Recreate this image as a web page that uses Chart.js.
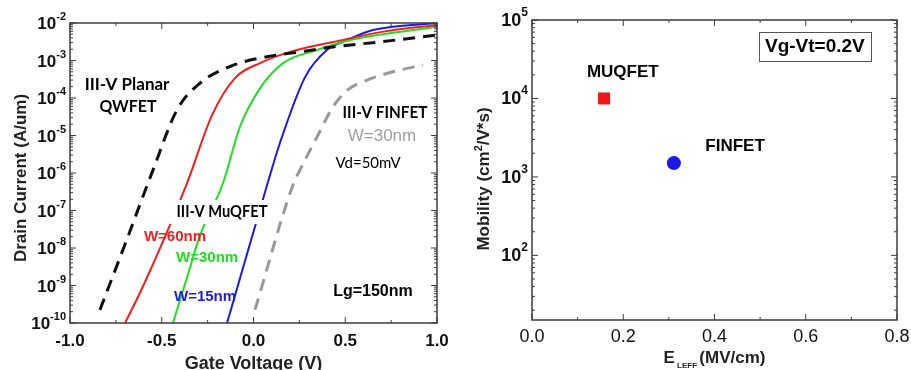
<!DOCTYPE html>
<html>
<head>
<meta charset="utf-8">
<script src="https://cdn.jsdelivr.net/npm/chart.js@4.4.1/dist/chart.umd.min.js"></script>
<style>
  body { margin: 0; background: #fff; }
  #wrap { position: relative; width: 911px; height: 370px; overflow: hidden; }
  canvas { position: absolute; top: 0; }
</style>
</head>
<body>
<div id="wrap">
  <canvas id="ivChart" width="460" height="370" style="left:0"></canvas>
  <canvas id="mobChart" width="451" height="370" style="left:460px"></canvas>
</div>
<script>
// ---- Left panel: drain current (A/um) vs gate voltage (V) ----
const vPlanar = [-0.837, -0.70, -0.55, -0.417, -0.291, -0.106, 0.074, 0.253, 0.433, 0.706, 1.0];
const iPlanar = [2.24e-10, 1.26e-8, 1.12e-6, 4.8e-5, 2.5e-4, 7.6e-4, 1.26e-3, 1.7e-3, 2.3e-3, 3.2e-3, 4.8e-3];

const vW60 = [-0.70, -0.60, -0.362, -0.226, -0.101, 0.035, 0.199, 0.433, 0.70, 1.0];
const iW60 = [1e-10, 1e-9, 5.4e-7, 3.5e-5, 3.4e-4, 8.5e-4, 1.7e-3, 3.1e-3, 5.8e-3, 8.9e-3];

const vW30 = [-0.439, -0.36, -0.291, -0.166, -0.074, 0.035, 0.161, 0.346, 0.526, 1.0];
const iW30 = [1e-10, 1.8e-9, 2.2e-8, 5.4e-7, 1.7e-5, 1.8e-4, 8.5e-4, 1.9e-3, 3.5e-3, 7.9e-3];

const vW15 = [-0.144, 0.074, 0.144, 0.281, 0.40, 0.51, 0.651, 1.0];
const iW15 = [1e-10, 4.8e-7, 6.3e-6, 3.6e-4, 1.9e-3, 3.5e-3, 6.5e-3, 1e-2];

const vFinfet = [0.008, 0.215, 0.253, 0.346, 0.433, 0.51, 0.619, 0.76, 0.924];
const iFinfet = [2.24e-10, 4.8e-7, 1.2e-6, 9.1e-6, 5.8e-5, 1.6e-4, 3.0e-4, 5.0e-4, 7.6e-4];

const vTicks = [-1.0, -0.5, 0.0, 0.5, 1.0];
const vMinorTicks = [-0.75, -0.25, 0.25, 0.75];

// ---- Right panel: mobility (cm2/V*s) vs effective field (MV/cm) ----
const eMuqfet = [0.158];
const muMuqfet = [10000];
const eFinfet = [0.311];
const muFinfet = [1500];

const eTicks = [0.0, 0.2, 0.4, 0.6, 0.8];
const eMinorTicks = [0.1, 0.3, 0.5, 0.7];

const FONT = "'Liberation Sans', Arial, sans-serif";
const NOTE_FONT = "Lato, 'Open Sans', sans-serif";

const toPoints = (xs, ys) => xs.map((x, i) => ({ x: x, y: ys[i] }));

// draw a row of text pieces (for super/subscripts), centred on cx
function drawRuns(ctx, runs, cx, baseY) {
    let total = 0;
    runs.forEach(r => { ctx.font = r.font; r.w = ctx.measureText(r.t).width; total += r.w; });
    let x = cx - total / 2;
    ctx.textAlign = 'left';
    ctx.textBaseline = 'alphabetic';
    runs.forEach(r => { ctx.font = r.font; ctx.fillText(r.t, x, baseY + (r.dy || 0)); x += r.w; });
}

// frame, inward ticks, labels, titles and notes
const axesFrame = {
    id: 'axesFrame',
    afterDraw(chart, args, o) {
        const ctx = chart.ctx;
        const a = chart.chartArea;
        const xs = chart.scales.x;
        const ys = chart.scales.y;
        ctx.save();

        // notes
        o.notes.forEach(n => {
            const px = xs.getPixelForValue(n.x);
            const py = ys.getPixelForValue(n.y);
            ctx.font = n.font;
            let w = ctx.measureText(n.text).width;
            if (n.maxW) w = Math.min(w, n.maxW);
            if (n.bg) {
                ctx.fillStyle = '#fff';
                ctx.fillRect(px - w / 2 - n.bg[0], py - n.bg[1] / 2, w + n.bg[0] * 2, n.bg[1]);
            }
            if (n.box) {
                ctx.fillStyle = '#fff';
                ctx.strokeStyle = '#555';
                ctx.lineWidth = 1;
                const bx = Math.round(px - w / 2 - n.box[0]) + 0.5;
                const by = Math.round(py - n.box[1] / 2) + 0.5;
                ctx.fillRect(bx, by, w + n.box[0] * 2, n.box[1]);
                ctx.strokeRect(bx, by, Math.round(w + n.box[0] * 2), n.box[1]);
            }
            ctx.fillStyle = n.color || '#000';
            ctx.textAlign = 'center';
            ctx.textBaseline = 'middle';
            if (n.maxW) ctx.fillText(n.text, px, py, n.maxW);
            else ctx.fillText(n.text, px, py);
        });

        // frame
        ctx.strokeStyle = '#3c3c3c';
        ctx.lineWidth = 1.5;
        ctx.strokeRect(a.left, a.top, a.right - a.left, a.bottom - a.top);

        ctx.lineWidth = 1;
        const seg = (x1, y1, x2, y2) => { ctx.beginPath(); ctx.moveTo(x1, y1); ctx.lineTo(x2, y2); ctx.stroke(); };
        o.xMajor.forEach(v => {
            const p = xs.getPixelForValue(v);
            seg(p, a.bottom, p, a.bottom - 6);
            seg(p, a.top, p, a.top + 6);
        });
        o.xMinor.forEach(v => {
            const p = xs.getPixelForValue(v);
            seg(p, a.bottom, p, a.bottom - 3);
            seg(p, a.top, p, a.top + 3);
        });
        for (let k = o.decades[0]; k <= o.decades[1]; k++) {
            const d = Math.pow(10, k);
            if (d >= ys.min && d <= ys.max) {
                const p = ys.getPixelForValue(d);
                seg(a.left, p, a.left + 6, p);
                seg(a.right, p, a.right - 6, p);
            }
            for (let m = 2; m <= 9; m++) {
                const v = m * d;
                if (v < ys.min || v > ys.max) continue;
                const p = ys.getPixelForValue(v);
                seg(a.left, p, a.left + 3, p);
                seg(a.right, p, a.right - 3, p);
            }
        }

        // x tick labels
        ctx.fillStyle = '#111';
        ctx.font = o.xLabelFont;
        ctx.textAlign = 'center';
        ctx.textBaseline = 'middle';
        o.xMajor.forEach(v => {
            ctx.fillText(v.toFixed(1), xs.getPixelForValue(v), a.bottom + o.xLabelGap);
        });

        // y tick labels 10^k, right aligned as a whole
        for (let k = o.decades[0]; k <= o.decades[1]; k++) {
            const d = Math.pow(10, k);
            if (d < ys.min || d > ys.max) continue;
            const p = ys.getPixelForValue(d);
            ctx.font = o.yExpFont;
            const ew = ctx.measureText(String(k)).width;
            const xr = a.left - o.yLabelGap - ew;
            ctx.textBaseline = 'alphabetic';
            ctx.font = o.yLabelFont;
            ctx.textAlign = 'right';
            ctx.fillText('10', xr, p + 6);
            ctx.font = o.yExpFont;
            ctx.textAlign = 'left';
            ctx.fillText(String(k), xr, p + o.yExpDy);
        }

        // axis titles
        ctx.fillStyle = '#222';
        drawRuns(ctx, o.xTitle, (a.left + a.right) / 2, o.xTitleY);
        ctx.save();
        ctx.translate(o.yTitleX, o.yTitleY);
        ctx.rotate(-Math.PI / 2);
        drawRuns(ctx, o.yTitle, 0, 6);
        ctx.restore();

        ctx.restore();
    }
};

Chart.register(axesFrame);

// Left chart
new Chart(document.getElementById('ivChart'), {
    type: 'line',
    data: {
        datasets: [
            { data: toPoints(vPlanar, iPlanar), borderColor: '#111', borderWidth: 3, borderDash: [12, 8] },
            { data: toPoints(vW60, iW60), borderColor: '#f02020', borderWidth: 2 },
            { data: toPoints(vW30, iW30), borderColor: '#22dd22', borderWidth: 2 },
            { data: toPoints(vW15, iW15), borderColor: '#1a1aee', borderWidth: 2 },
            { data: toPoints(vFinfet, iFinfet), borderColor: '#999', borderWidth: 3, borderDash: [12, 8] }
        ]
    },
    options: {
        responsive: false,
        animation: false,
        layout: { padding: { left: 70, right: 23, top: 23, bottom: 47 } },
        elements: { point: { radius: 0 }, line: { cubicInterpolationMode: 'monotone' } },
        scales: {
            x: { type: 'linear', min: -1, max: 1, display: false },
            y: { type: 'logarithmic', min: 1e-10, max: 1e-2, display: false }
        },
        plugins: {
            legend: { display: false },
            tooltip: { enabled: false },
            axesFrame: {
                xMajor: vTicks,
                xMinor: vMinorTicks,
                decades: [-10, -2],
                xLabelFont: 'bold 17px ' + FONT,
                xLabelGap: 18,
                yLabelFont: 'bold 17px ' + FONT,
                yExpFont: 'bold 11px ' + FONT,
                yExpDy: -3,
                yLabelGap: 4,
                xTitle: [{ t: 'Gate Voltage (V)', font: 'bold 18px ' + FONT }],
                xTitleY: 369,
                yTitle: [{ t: 'Drain Current (A/um)', font: 'bold 17px ' + FONT }],
                yTitleX: 20,
                yTitleY: 178,
                notes: [
                    { text: 'III-V Planar', x: -0.689, y: Math.pow(10, -3.65), font: 'bold 17px ' + NOTE_FONT, maxW: 87 },
                    { text: 'QWFET', x: -0.684, y: Math.pow(10, -4.24), font: 'bold 17px ' + NOTE_FONT, maxW: 57 },
                    { text: 'III-V FINFET', x: 0.717, y: Math.pow(10, -4.40), font: 'bold 17px ' + NOTE_FONT, maxW: 85 },
                    { text: 'W=30nm', x: 0.700, y: Math.pow(10, -5.01), font: '17px ' + FONT, color: '#a0a0a0' },
                    { text: 'Vd=50mV', x: 0.624, y: Math.pow(10, -5.73), font: '15px ' + NOTE_FONT, maxW: 70 },
                    { text: 'III-V MuQFET', x: -0.172, y: Math.pow(10, -7.04), font: 'bold 17px ' + NOTE_FONT, maxW: 91, bg: [7, 24] },
                    { text: 'W=60nm', x: -0.428, y: Math.pow(10, -7.71), font: 'bold 15px ' + FONT, color: '#f02020' },
                    { text: 'W=30nm', x: -0.253, y: Math.pow(10, -8.27), font: 'bold 15px ' + FONT, color: '#22dd22' },
                    { text: 'W=15nm', x: -0.264, y: Math.pow(10, -9.31), font: 'bold 15px ' + FONT, color: '#1a1aee' },
                    { text: 'Lg=150nm', x: 0.651, y: Math.pow(10, -9.17), font: 'bold 16px ' + FONT }
                ]
            }
        }
    }
});

// Right chart
new Chart(document.getElementById('mobChart'), {
    type: 'scatter',
    data: {
        datasets: [
            { data: toPoints(eMuqfet, muMuqfet), pointStyle: 'rect', pointRadius: 8.5, backgroundColor: '#f01818', borderWidth: 0 },
            { data: toPoints(eFinfet, muFinfet), pointStyle: 'circle', pointRadius: 7, backgroundColor: '#1a1aee', borderWidth: 0 }
        ]
    },
    options: {
        responsive: false,
        animation: false,
        layout: { padding: { left: 72, right: 14, top: 20, bottom: 50 } },
        scales: {
            x: { type: 'linear', min: 0, max: 0.8, display: false },
            y: { type: 'logarithmic', min: 15, max: 1e5, display: false }
        },
        plugins: {
            legend: { display: false },
            tooltip: { enabled: false },
            axesFrame: {
                xMajor: eTicks,
                xMinor: eMinorTicks,
                decades: [1, 5],
                xLabelFont: '18px ' + FONT,
                xLabelGap: 17,
                yLabelFont: 'bold 18px ' + FONT,
                yExpFont: 'bold 12px ' + FONT,
                yExpDy: -4,
                yLabelGap: 4,
                xTitle: [
                    { t: 'E', font: 'bold 17px ' + FONT },
                    { t: ' LEFF ', font: 'bold 8px ' + FONT, dy: 5 },
                    { t: '(MV/cm)', font: 'bold 17px ' + FONT }
                ],
                xTitleY: 363,
                yTitle: [
                    { t: 'Mobility (cm', font: 'bold 17px ' + FONT },
                    { t: '2', font: 'bold 11px ' + FONT, dy: -7 },
                    { t: '/V*s)', font: 'bold 17px ' + FONT }
                ],
                yTitleX: 23,
                yTitleY: 179,
                notes: [
                    { text: 'MUQFET', x: 0.199, y: Math.pow(10, 4.33), font: 'bold 17px ' + FONT },
                    { text: 'FINFET', x: 0.445, y: Math.pow(10, 3.39), font: 'bold 17px ' + FONT },
                    { text: 'Vg-Vt=0.2V', x: 0.620, y: Math.pow(10, 4.66), font: 'bold 19px ' + FONT, box: [6, 29] }
                ]
            }
        }
    }
});
</script>
</body>
</html>
